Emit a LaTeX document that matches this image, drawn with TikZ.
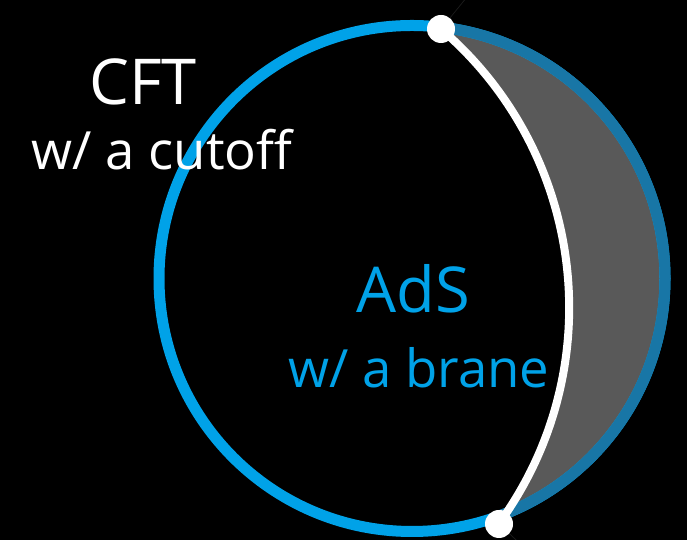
\documentclass[tikz,border=0pt]{standalone}
\usepackage{fontspec}
\setmainfont{Open Sans}
\usetikzlibrary{calc}
\tikzset{>=latex}
\definecolor{adsblue}{RGB}{0,162,232}
\definecolor{cutblue}{RGB}{24,118,166}
\definecolor{bulkgray}{RGB}{89,89,89}
\tikzstyle{boundary}=[draw=adsblue,line width=11*0.02cm]
\tikzstyle{cutboundary}=[draw=cutblue,line width=11*0.02cm]
\tikzstyle{brane}=[draw=white,line width=8*0.02cm]
\tikzstyle{faint}=[draw=gray!22!black,line width=0.4pt]
\tikzstyle{endpt}=[circle,fill=white,inner sep=0pt,minimum size=28*0.02cm]
\tikzstyle{bigtext}=[inner sep=0pt,anchor=base,font=\fontsize{36}{40}\selectfont]
\tikzstyle{smalltext}=[inner sep=0pt,anchor=base,font=\fontsize{30}{36}\selectfont]

\begin{document}
\begin{tikzpicture}[x=0.02cm,y=0.02cm]
\def \cx {412};
\def \cy {261.5};
\def \R {253};
\def \rb {367};

\fill[black] (0,0) rectangle (687,540);
\useasboundingbox (0,0) rectangle (687,540);

\coordinate (O) at (\cx,\cy);
\coordinate (P) at (441,511);
\coordinate (Q) at (499,16);

% region cut off by the brane
\begin{scope}
	\clip (O) circle (\R);
	\fill[bulkgray] (P) arc[start angle=49.4,end angle=-36.1,radius=\rb]
		-- (687,0) -- (687,540) -- cycle;
\end{scope}

\draw[faint] (P) -- ++(26,32);
\draw[faint] (Q) -- ++(30,-28);

\draw[boundary] (O) circle (\R);
\draw[cutboundary] (O) ++(83.4:\R) arc[start angle=83.4,end angle=-70.5,radius=\R];
\draw[brane] (P) arc[start angle=49.4,end angle=-36.1,radius=\rb];

\node[endpt] (top) at (P) {};
\node[endpt] (bot) at (Q) {};

\node[bigtext,white] (cft) at (143,435) {CFT};
\node[smalltext,white] (cftcut) at (162,370) {w/ a cutoff};
\node[bigtext,adsblue] (ads) at (413,227) {AdS};
\node[smalltext,adsblue] (adsbrane) at (419,152) {w/ a brane};

\end{tikzpicture}
\end{document}
